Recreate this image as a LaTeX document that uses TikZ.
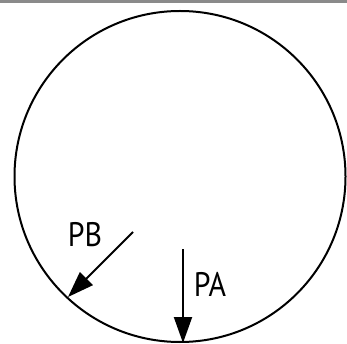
\documentclass[tikz,border=0pt]{standalone}
\usepackage{fontspec}
\setmainfont{PT Sans}
\newfontfamily\labelfont[FakeStretch=0.88]{PT Sans}
\usetikzlibrary{arrows.meta}
\tikzset{every picture/.style={line width=2pt}}
\tikzset{force/.style={-{Triangle[length=26pt,width=18pt]}, line width=2pt},
  forcelabel/.style={inner sep=0pt, font=\labelfont\fontsize{34}{34}\selectfont}}

\begin{document}
\begin{tikzpicture}[x=1pt,y=1pt,yscale=-1,xscale=1]
\useasboundingbox (0,0) rectangle (347,344);

%Shape: Band
\fill [color={rgb, 255:red, 138; green, 138; blue, 138 }] (0,0) rectangle (347,3.5) ;
%Shape: Circle
\node (ring) [circle, draw, line width=2pt, minimum size=331pt, inner sep=0pt] at (180,176.5) {};

%Straight Lines: PA
\coordinate (PAtail) at (183,249) ;
\coordinate (PAtip) at (183,343) ;
\draw [force] (PAtail) -- (PAtip) ;
%Straight Lines: PB
\coordinate (PBtail) at (133,232) ;
\coordinate (PBtip) at (68,297) ;
\draw [force] (PBtail) -- (PBtip) ;

% Text Node
\node (pa) [forcelabel] at (210,284.5) {PA};
% Text Node
\node (pb) [forcelabel] at (85,234.5) {PB};

\end{tikzpicture}
\end{document}
